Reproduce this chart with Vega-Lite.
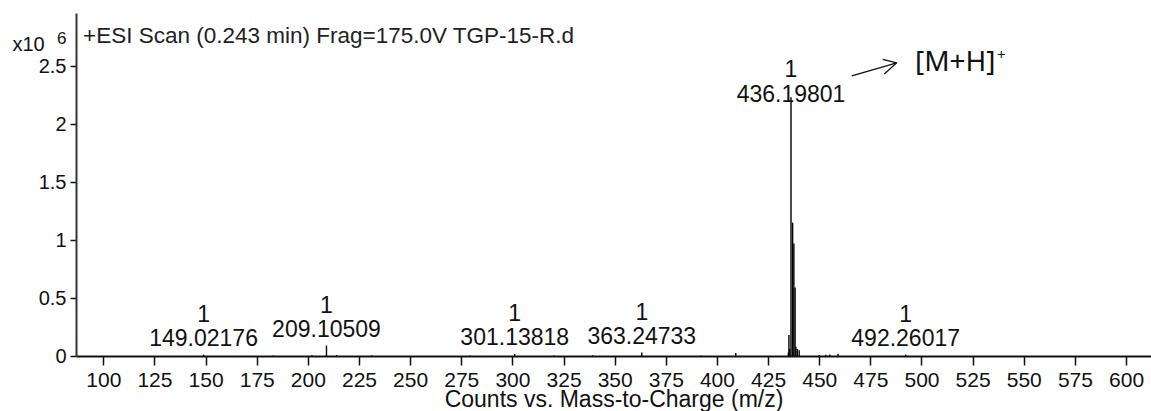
{
  "$schema": "https://vega.github.io/schema/vega-lite/v6.json",
  "width": 1075,
  "height": 343,
  "autosize": {"type": "none"},
  "padding": {"left": 76, "top": 13, "right": 0, "bottom": 55},
  "background": "white",
  "config": {
    "view": {"stroke": null},
    "font": "Liberation Sans",
    "text": {"font": "Liberation Sans", "color": "#111"}
  },
  "title": {
    "text": "+ESI Scan (0.243 min) Frag=175.0V TGP-15-R.d",
    "anchor": "start",
    "frame": "group",
    "baseline": "top",
    "offset": -15,
    "dx": 7,
    "dy": 19,
    "fontSize": 22.5,
    "fontWeight": "normal",
    "color": "#222"
  },
  "datasets": {
    "sticks": [
      {"mz": 149.02176, "counts": 12000},
      {"mz": 183.1, "counts": 5000},
      {"mz": 202.0, "counts": 6000},
      {"mz": 209.10509, "counts": 90000},
      {"mz": 214.1, "counts": 8000},
      {"mz": 231.1, "counts": 5000},
      {"mz": 279.1, "counts": 4000},
      {"mz": 301.13818, "counts": 18000},
      {"mz": 320.2, "counts": 4000},
      {"mz": 339.2, "counts": 6000},
      {"mz": 363.24733, "counts": 30000},
      {"mz": 392.2, "counts": 4000},
      {"mz": 409.2, "counts": 25000},
      {"mz": 434.9, "counts": 30000},
      {"mz": 435.19, "counts": 180000},
      {"mz": 435.6, "counts": 60000},
      {"mz": 436.19801, "counts": 2230000},
      {"mz": 437.0, "counts": 1150000},
      {"mz": 437.6, "counts": 970000},
      {"mz": 438.2, "counts": 590000},
      {"mz": 438.6, "counts": 80000},
      {"mz": 439.3, "counts": 60000},
      {"mz": 440.2, "counts": 50000},
      {"mz": 450.0, "counts": 8000},
      {"mz": 453.2, "counts": 10000},
      {"mz": 455.2, "counts": 12000},
      {"mz": 459.2, "counts": 20000},
      {"mz": 492.26017, "counts": 12000}
    ],
    "labels": [
      {"mz": 149.02176, "counts": 12000, "charge": "1", "label": "149.02176", "group": "minor"},
      {"mz": 209.10509, "counts": 90000, "charge": "1", "label": "209.10509", "group": "minor"},
      {"mz": 301.13818, "counts": 18000, "charge": "1", "label": "301.13818", "group": "minor"},
      {"mz": 363.24733, "counts": 30000, "charge": "1", "label": "363.24733", "group": "minor"},
      {"mz": 436.19801, "counts": 2230000, "charge": "1", "label": "436.19801", "group": "base"},
      {"mz": 492.26017, "counts": 12000, "charge": "1", "label": "492.26017", "group": "minor"}
    ],
    "arrow": [
      {"mz": 465.9, "counts": 2414000, "mz2": 487.9, "counts2": 2528000},
      {"mz": 481.05, "counts": 2558000, "mz2": 487.9, "counts2": 2528000},
      {"mz": 481.83, "counts": 2431000, "mz2": 487.9, "counts2": 2528000}
    ],
    "notes": [
      {"mz": 496.8, "counts": 2526000, "note": "[M+H]", "kind": "ion"},
      {"mz": 536.9, "counts": 2595000, "note": "+", "kind": "charge"},
      {"mz": 77.4, "counts": 2733000, "note": "6", "kind": "exponent"}
    ]
  },
  "encoding": {
    "x": {
      "field": "mz",
      "type": "quantitative",
      "scale": {"domain": [86.65, 612.2], "nice": false, "zero": false},
      "axis": {
        "values": [100, 125, 150, 175, 200, 225, 250, 275, 300, 325, 350, 375, 400, 425, 450, 475, 500, 525, 550, 575, 600],
        "grid": false,
        "domainColor": "#111",
        "domainWidth": 2,
        "tickColor": "#111",
        "tickWidth": 1.5,
        "tickSize": 9,
        "labelPadding": 4,
        "labelFontSize": 21,
        "labelColor": "#111",
        "labelFont": "Liberation Sans",
        "title": "Counts vs. Mass-to-Charge (m/z)",
        "titleFont": "Liberation Sans",
        "titleFontSize": 23,
        "titleFontWeight": "normal",
        "titleColor": "#111",
        "titleY": 50,
        "titleBaseline": "alphabetic"
      }
    },
    "y": {
      "field": "counts",
      "type": "quantitative",
      "scale": {"domain": [0, 2957000], "nice": false},
      "axis": {
        "values": [0, 500000, 1000000, 1500000, 2000000, 2500000],
        "labelExpr": "'' + datum.value / 1000000",
        "grid": false,
        "domainColor": "#333",
        "domainWidth": 2,
        "tickColor": "#111",
        "tickWidth": 1.5,
        "tickSize": 6,
        "labelPadding": 4,
        "labelFontSize": 20,
        "labelColor": "#111",
        "labelFont": "Liberation Sans",
        "title": "x10",
        "titleFont": "Liberation Sans",
        "titleFontSize": 20,
        "titleFontWeight": "normal",
        "titleColor": "#111",
        "titleAngle": 0,
        "titleAlign": "left",
        "titleBaseline": "alphabetic",
        "titleX": -64,
        "titleY": 37
      }
    }
  },
  "layer": [
    {
      "mark": {"type": "rule", "color": "#444", "strokeWidth": 2},
      "encoding": {"y": {"datum": 2957000}, "x": null}
    },
    {
      "data": {"name": "sticks"},
      "mark": {"type": "rule", "color": "#000", "strokeWidth": 1.4},
      "encoding": {"y2": {"datum": 0}}
    },
    {
      "data": {"name": "labels"},
      "transform": [{"filter": "datum.group === 'minor'"}],
      "layer": [
        {"mark": {"type": "text", "fontSize": 23, "baseline": "middle", "dy": -40}, "encoding": {"text": {"field": "charge"}}},
        {"mark": {"type": "text", "fontSize": 23, "baseline": "middle", "dy": -16}, "encoding": {"text": {"field": "label"}}}
      ]
    },
    {
      "data": {"name": "labels"},
      "transform": [{"filter": "datum.group === 'base'"}],
      "layer": [
        {"mark": {"type": "text", "fontSize": 23, "baseline": "middle", "dy": -27}, "encoding": {"text": {"field": "charge"}}},
        {"mark": {"type": "text", "fontSize": 23, "baseline": "middle", "dy": -2}, "encoding": {"text": {"field": "label"}}}
      ]
    },
    {
      "data": {"name": "arrow"},
      "mark": {"type": "rule", "color": "#111", "strokeWidth": 1.3},
      "encoding": {
        "x2": {"field": "mz2"},
        "y2": {"field": "counts2"}
      }
    },
    {
      "data": {"name": "notes"},
      "transform": [{"filter": "datum.kind === 'ion'"}],
      "mark": {"type": "text", "font": "Noto Sans", "fontSize": 28, "align": "left", "baseline": "middle", "color": "#111"},
      "encoding": {"text": {"field": "note"}}
    },
    {
      "data": {"name": "notes"},
      "transform": [{"filter": "datum.kind === 'charge'"}],
      "mark": {"type": "text", "font": "Noto Sans", "fontSize": 15, "align": "left", "baseline": "middle", "color": "#111"},
      "encoding": {"text": {"field": "note"}}
    },
    {
      "data": {"name": "notes"},
      "transform": [{"filter": "datum.kind === 'exponent'"}],
      "mark": {"type": "text", "fontSize": 17, "align": "left", "baseline": "middle", "color": "#111"},
      "encoding": {"text": {"field": "note"}}
    }
  ]
}
